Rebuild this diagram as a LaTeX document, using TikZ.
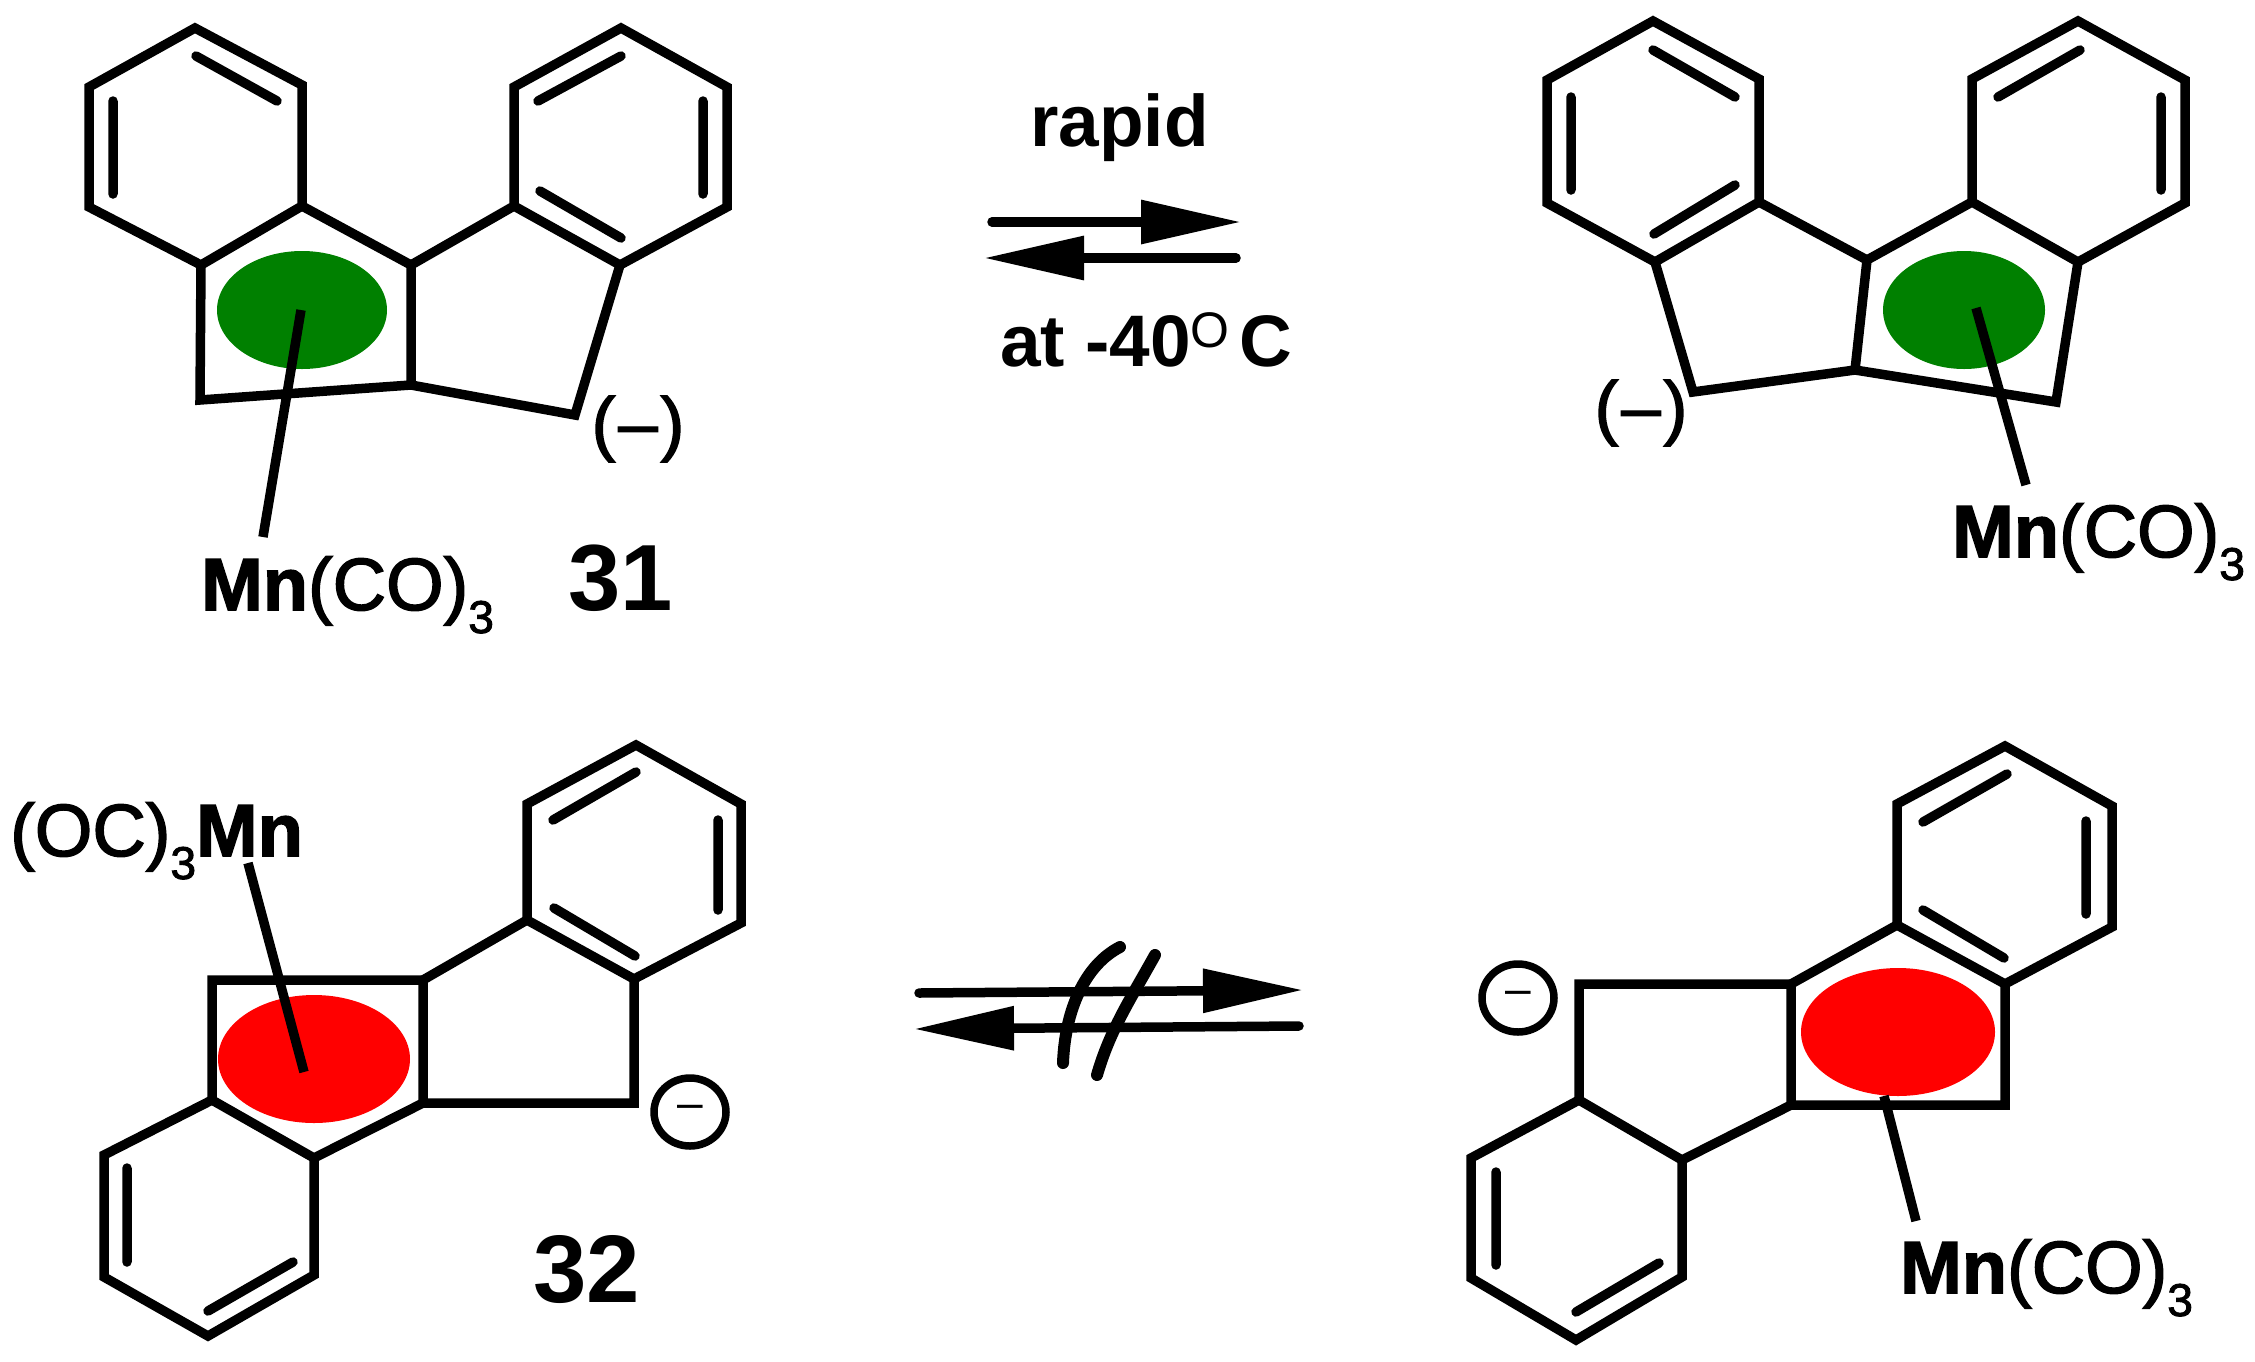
\documentclass[tikz,border=0pt]{standalone}
\usepackage{fontspec}
\setmainfont{Liberation Sans}
\newfontfamily\medfont[FakeBold=2]{Liberation Sans}
\usetikzlibrary{arrows.meta, shapes.geometric}

\newcommand{\subthree}{\raisebox{-23pt}{\fontsize{46}{46}\selectfont 3}}

\tikzset{
  bond/.style={line width=9.5pt, line join=miter},
  inner bond/.style={line width=9.5pt, line cap=round},
  ligand/.style={line width=9.5pt},
  hapto/.style={ellipse, draw=none, inner sep=0pt},
  chem label/.style={font=\fontsize{74}{80}\selectfont\medfont, anchor=base west, inner sep=0pt},
  number label/.style={font=\fontsize{94}{100}\selectfont\bfseries, anchor=base west, inner sep=0pt},
  charge label/.style={font=\fontsize{71}{80}\selectfont\medfont, inner sep=0pt},
  charge ring/.style={ellipse, draw, line width=7.5pt, minimum width=72pt, minimum height=68pt, inner sep=0pt, font=\fontsize{46}{46}\selectfont},
  eq arrow/.style={line width=9.5pt, line cap=round, -{Triangle[length=100pt, width=42pt]}},
  cross stroke/.style={line width=12pt, line cap=round}
}

\begin{document}
\begin{tikzpicture}[x=1pt, y=-1pt]
  \useasboundingbox (0,0) rectangle (2255,1361);

  % top left
  \foreach \nm/\x/\y in {a1/195/28, a2/302/85, a3/302/206, a4/201/265, a5/89/207, a6/89/87,
      a7/411/265, a8/411/385, a9/200/400, a10/514/206, a11/620/265, a12/727/207, a13/727/87,
      a14/621/28, a15/514/87, a16/575/415,
      ai1/196/56, ai2/277/101, ai3/113/101, ai4/113/194, ai5/538/101, ai6/621/56,
      ai7/703/101, ai8/703/194, ai9/540/191, ai10/621/238, am1/301/310, am2/263/537}
    \coordinate (\nm) at (\x,\y);
  \node[hapto, fill={rgb,255:red,0;green,128;blue,0}, minimum width=170pt, minimum height=118pt] (e1) at (302,310) {};
  \draw[bond] (a1) -- (a2) -- (a3) -- (a4) -- (a5) -- (a6) -- cycle;
  \draw[bond] (a3) -- (a7) -- (a8) -- (a9) -- (a4);
  \draw[bond] (a7) -- (a10) -- (a11) -- (a12) -- (a13) -- (a14) -- (a15) -- (a10);
  \draw[bond] (a11) -- (a16) -- (a8);
  \draw[inner bond] (ai1) -- (ai2) (ai3) -- (ai4) (ai5) -- (ai6) (ai7) -- (ai8) (ai9) -- (ai10);
  \draw[ligand] (am1) -- (am2);
  \node[chem label] (mn1) at (201,610) {\textbf{Mn}(CO)\subthree};
  \node[number label] (n31) at (568,610) {31};
  \node[charge label] (q1) at (638,429) {(\hspace{3pt}–\hspace{3pt})};

  % top right
  \foreach \nm/\x/\y in {b1/1653/21, b2/1759/79, b3/1759/202, b4/1655/262, b5/1547/203, b6/1547/80,
      b7/1867/260, b8/1855/370, b9/1693/392, b10/1972/202, b11/2078/262, b12/2185/203, b13/2185/80,
      b14/2078/21, b15/1972/79, b16/2056/402,
      bi1/1653/50, bi2/1735/97, bi3/1571/97, bi4/1571/190, bi5/1654/234, bi6/1735/185,
      bi7/1998/97, bi8/2080/50, bi9/2161/97, bi10/2161/190, bm1/1976/308, bm2/2026/485}
    \coordinate (\nm) at (\x,\y);
  \node[hapto, fill={rgb,255:red,0;green,128;blue,0}, minimum width=162pt, minimum height=118pt] (e2) at (1964,310) {};
  \draw[bond] (b1) -- (b2) -- (b3) -- (b4) -- (b5) -- (b6) -- cycle;
  \draw[bond] (b3) -- (b7) -- (b8) -- (b9) -- (b4);
  \draw[bond] (b7) -- (b10) -- (b11) -- (b12) -- (b13) -- (b14) -- (b15) -- (b10);
  \draw[bond] (b11) -- (b16) -- (b8);
  \draw[inner bond] (bi1) -- (bi2) (bi3) -- (bi4) (bi5) -- (bi6) (bi7) -- (bi8) (bi9) -- (bi10);
  \draw[ligand] (bm1) -- (bm2);
  \node[chem label] (mn2) at (1952,557) {\textbf{Mn}(CO)\subthree};
  \node[charge label] (q2) at (1641,413) {(\hspace{3pt}–\hspace{3pt})};

  % bottom left
  \foreach \nm/\x/\y in {c1/636/745, c2/741/804, c3/741/923, c4/634/979, c5/527/920, c6/527/804,
      c7/423/980, c8/423/1103, c9/634/1103, c10/212/980, c11/212/1100, c12/314/1158,
      c13/104/1155, c14/104/1277, c15/208/1336, c16/314/1275,
      ci1/553/820, ci2/636/772, ci3/718/820, ci4/718/910, ci5/554/908, ci6/635/956,
      ci7/127/1168, ci8/127/1262, ci9/208/1311, ci10/293/1262, cm1/304/1072, cm2/248/863}
    \coordinate (\nm) at (\x,\y);
  \node[hapto, fill=red, minimum width=192pt, minimum height=128pt] (e3) at (314,1059) {};
  \draw[bond] (c1) -- (c2) -- (c3) -- (c4) -- (c5) -- (c6) -- cycle;
  \draw[bond] (c5) -- (c7) -- (c8) -- (c9) -- (c4);
  \draw[bond] (c7) -- (c10) -- (c11) -- (c12) -- (c8);
  \draw[bond] (c11) -- (c13) -- (c14) -- (c15) -- (c16) -- (c12);
  \draw[inner bond] (ci1) -- (ci2) (ci3) -- (ci4) (ci5) -- (ci6) (ci7) -- (ci8) (ci9) -- (ci10);
  \draw[ligand] (cm1) -- (cm2);
  \node[chem label] (mn3) at (10,856) {(OC)\subthree\textbf{Mn}};
  \node[number label, font=\fontsize{96}{100}\selectfont\bfseries] (n32) at (533,1302) {32};
  \node[charge ring] (r1) at (690,1112) {--};

  % bottom right
  \foreach \nm/\x/\y in {d1/2005/746, d2/2112/806, d3/2112/927, d4/2005/984, d5/1897/925, d6/1897/804,
      d7/1791/984, d8/1791/1105, d9/2005/1105, d10/1579/984, d11/1579/1100, d12/1682/1160,
      d13/1471/1158, d14/1471/1278, d15/1576/1340, d16/1682/1277,
      di1/1923/822, di2/2007/774, di3/2086/821, di4/2086/914, di5/1923/910, di6/2004/958,
      di7/1496/1172, di8/1496/1265, di9/1576/1312, di10/1659/1263, dm1/1884/1096, dm2/1916/1221}
    \coordinate (\nm) at (\x,\y);
  \draw[bond] (d1) -- (d2) -- (d3) -- (d4) -- (d5) -- (d6) -- cycle;
  \draw[bond] (d5) -- (d7) -- (d8) -- (d9) -- (d4);
  \draw[bond] (d7) -- (d10) -- (d11) -- (d12) -- (d8);
  \draw[bond] (d11) -- (d13) -- (d14) -- (d15) -- (d16) -- (d12);
  \draw[inner bond] (di1) -- (di2) (di3) -- (di4) (di5) -- (di6) (di7) -- (di8) (di9) -- (di10);
  \node[hapto, fill=red, minimum width=194pt, minimum height=128pt] (e4) at (1898,1032) {};
  \draw[ligand] (dm1) -- (dm2);
  \node[chem label] (mn4) at (1900,1293) {\textbf{Mn}(CO)\subthree};
  \node[charge ring] (r2) at (1518,998) {--};

  % arrows
  \foreach \nm/\x/\y in {t1/992/222, t2/1241/222, t3/984/258, t4/1236/258,
      u1/919/993, u2/1303/990, u3/914/1029, u4/1299/1026,
      s1/1120/947, s2/1063/1063, s3/1155/955, s4/1097/1075}
    \coordinate (\nm) at (\x,\y);
  \draw[eq arrow] (t1) -- (t2);
  \draw[eq arrow] (t4) -- (t3);
  \draw[eq arrow] (u1) -- (u2);
  \draw[eq arrow] (u4) -- (u3);
  \draw[cross stroke] (s1) .. controls (1085,965) and (1065,1010) .. (s2);
  \draw[cross stroke] (s3) .. controls (1130,1000) and (1110,1030) .. (s4);
  \node[chem label, font=\fontsize{73}{80}\selectfont\bfseries] (rapid) at (1030,146) {rapid};
  \node[chem label, font=\fontsize{73}{80}\selectfont\bfseries] (temp) at (1000,366)
    {at -40\raisebox{19pt}{\fontsize{50}{50}\selectfont\mdseries O}\hspace{10pt}C};
\end{tikzpicture}
\end{document}
